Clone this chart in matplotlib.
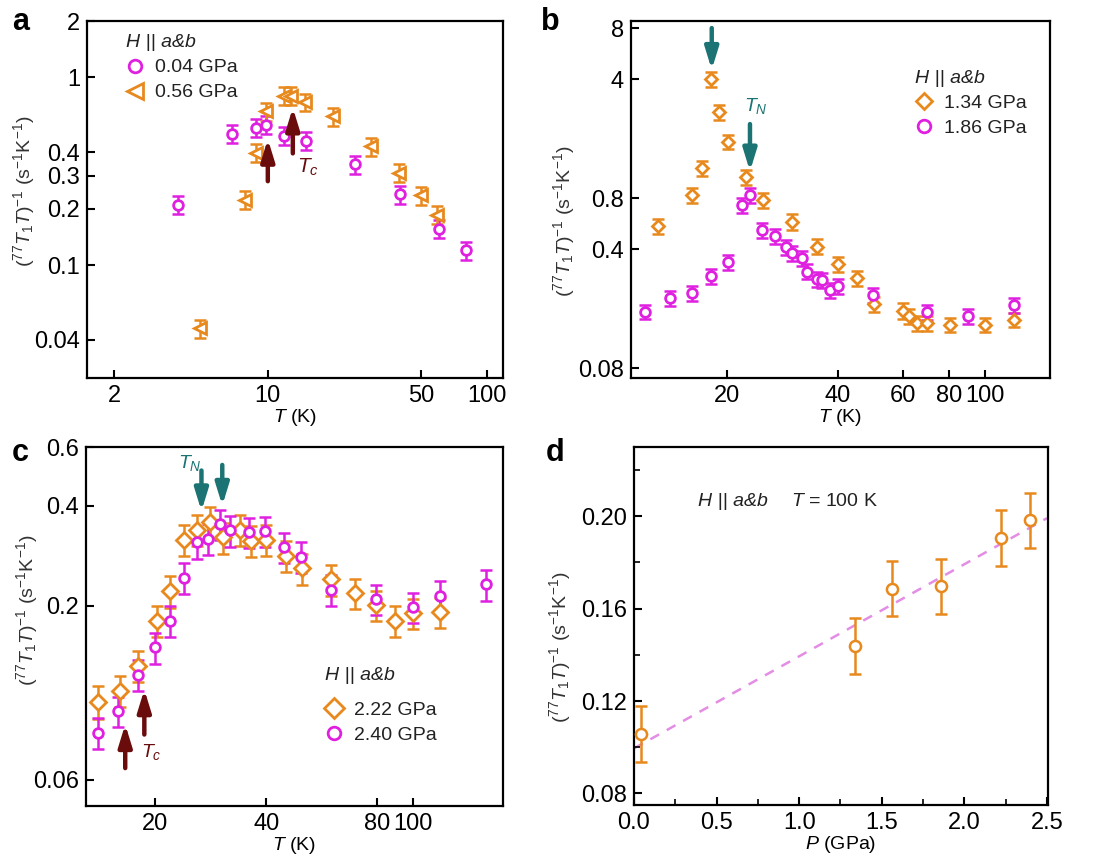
import numpy as np
import matplotlib
matplotlib.use("Agg")
import matplotlib.pyplot as plt
from matplotlib.ticker import NullLocator, FixedLocator

plt.rcParams['font.family'] = ['Liberation Sans', 'DejaVu Sans']
plt.rcParams['mathtext.fontset'] = 'custom'
plt.rcParams['mathtext.rm'] = 'Liberation Sans'
plt.rcParams['mathtext.it'] = 'Liberation Sans:italic'
plt.rcParams['mathtext.bf'] = 'Liberation Sans:bold'

MAGENTA = '#e020e0'
ORANGE = '#e8891e'
TEAL = '#1b7373'
DARKRED = '#6b0c0c'
FIT = '#e48de4'

# ---- panel a: 0.04 GPa / 0.56 GPa ----
a_T_004 = [3.9, 6.9, 8.85, 9.8, 11.8, 14.9, 24.9, 39.9, 60, 80]
a_v_004 = [0.21, 0.50, 0.54, 0.56, 0.49, 0.46, 0.344, 0.238, 0.156, 0.120]
a_e_004 = [0.023, 0.055, 0.06, 0.06, 0.054, 0.05, 0.038, 0.026, 0.017, 0.013]
a_T_056 = [4.9, 7.9, 8.85, 9.8, 11.9, 12.8, 14.7, 19.8, 29.6, 39.7, 50, 58.8]
a_v_056 = [0.046, 0.223, 0.397, 0.66, 0.80, 0.80, 0.74, 0.62, 0.43, 0.31, 0.235, 0.186]
a_e_056 = [0.005, 0.025, 0.044, 0.073, 0.088, 0.088, 0.08, 0.068, 0.047, 0.034, 0.026, 0.02]
a_tc_T = [10.0, 13.0]
a_tc_tail = [0.28, 0.394]
a_tc_tip = [0.47, 0.69]

# ---- panel b: 1.34 GPa / 1.86 GPa ----
b_T_134 = [13.0, 16.1, 17.1, 18.1, 19.1, 20.2, 22.6, 25.1, 30.1, 35.0, 40.0, 45.1,
           50.0, 60.0, 62.2, 65.3, 69.7, 80.4, 100, 119.6]
b_v_134 = [0.55, 0.835, 1.20, 4.0, 2.55, 1.72, 1.06, 0.78, 0.582, 0.415, 0.327, 0.270,
           0.191, 0.174, 0.161, 0.148, 0.148, 0.144, 0.144, 0.154]
b_e_134 = [0.055, 0.085, 0.12, 0.4, 0.26, 0.17, 0.11, 0.08, 0.06, 0.042, 0.033, 0.027,
           0.019, 0.018, 0.016, 0.015, 0.015, 0.014, 0.014, 0.015]
b_T_186 = [12.0, 14.0, 16.1, 18.1, 20.2, 22.0, 23.1, 24.9, 27.0, 29.0, 30.1, 32.0,
           33.0, 35.0, 36.1, 38.0, 40.0, 49.8, 69.7, 90, 119.6]
b_v_186 = [0.172, 0.206, 0.220, 0.279, 0.338, 0.73, 0.835, 0.52, 0.479, 0.411, 0.379, 0.354,
           0.296, 0.267, 0.265, 0.231, 0.243, 0.215, 0.170, 0.161, 0.188]
b_e_186 = [0.017, 0.021, 0.022, 0.028, 0.034, 0.075, 0.085, 0.052, 0.048, 0.041, 0.038, 0.036,
           0.03, 0.027, 0.027, 0.023, 0.025, 0.022, 0.017, 0.016, 0.019]
b_tn_T = [18.2, 23.1]
b_tn_tail = [8.0, 2.18]
b_tn_tip = [4.55, 1.15]

# ---- panel c: 2.22 GPa / 2.40 GPa ----
c_T_222 = [14.0, 16.1, 18.0, 20.3, 22.0, 23.9, 26.0, 28.1, 30.6, 34.0, 36.4, 40.0,
           45.1, 50.0, 59.7, 69.7, 79.3, 89, 100, 118]
c_v_222 = [0.103, 0.111, 0.132, 0.180, 0.221, 0.316, 0.338, 0.357, 0.321, 0.338, 0.314, 0.316,
           0.282, 0.259, 0.240, 0.218, 0.201, 0.180, 0.190, 0.191]
c_e_222 = [0.012, 0.012, 0.014, 0.019, 0.024, 0.034, 0.036, 0.038, 0.034, 0.036, 0.034, 0.034,
           0.03, 0.028, 0.026, 0.023, 0.021, 0.019, 0.02, 0.02]
c_T_240 = [14.0, 15.9, 18.0, 20.0, 22.0, 23.9, 25.9, 27.8, 30.0, 32.0, 35.9, 39.6,
           44.6, 49.8, 59.7, 79.3, 100, 118, 157]
c_v_240 = [0.083, 0.0966, 0.124, 0.150, 0.180, 0.243, 0.31, 0.318, 0.352, 0.337, 0.333, 0.335,
           0.300, 0.281, 0.223, 0.209, 0.198, 0.214, 0.232]
c_e_240 = [0.009, 0.01, 0.013, 0.016, 0.019, 0.026, 0.033, 0.034, 0.037, 0.036, 0.035, 0.035,
           0.032, 0.03, 0.024, 0.022, 0.021, 0.023, 0.025]
c_tn_T = [26.7, 30.4]
c_tn_tail = [0.51, 0.53]
c_tn_tip = [0.385, 0.40]
c_tc_T = [16.6, 18.7]
c_tc_tail = [0.065, 0.082]
c_tc_tip = [0.088, 0.112]

# ---- panel d: T = 100 K vs pressure ----
d_P = [0.04, 1.34, 1.56, 1.86, 2.22, 2.40]
d_v = [0.1057, 0.1438, 0.1687, 0.1697, 0.1906, 0.1983]
d_e = [0.012, 0.012, 0.012, 0.012, 0.012, 0.012]
fit_P = [0.0, 2.5]
fit_v = [0.0995, 0.1992]

YLABEL = r'$(^{77}T_1T)^{-1}$ (s$^{-1}$K$^{-1}$)'
TLABEL = r'$T$ (K)'


def style_axes(ax):
    for s in ax.spines.values():
        s.set_linewidth(1.6)
    ax.tick_params(which='major', direction='in', length=6, width=1.5, labelsize=17, pad=5)
    ax.tick_params(which='minor', direction='in', length=4, width=1.2)


def labels(ax, xlabel, ycoords):
    ax.set_xlabel(xlabel, fontsize=14, labelpad=0)
    ax.set_ylabel(YLABEL, fontsize=14, color='#333333')
    ax.yaxis.set_label_coords(*ycoords)


def series(ax, T, v, e, color, marker, ms, label):
    ax.errorbar(T, v, yerr=e, fmt='none', ecolor=color, elinewidth=1.8,
                capsize=4.5, capthick=1.8, zorder=2)
    ax.plot(T, v, ls='none', marker=marker, ms=ms, mfc='white', mec=color,
            mew=2, label=label, zorder=3)


def arrows(ax, T, tail, tip, color):
    for t, a, b in zip(T, tail, tip):
        ax.annotate('', xy=(t, b), xytext=(t, a),
                    arrowprops=dict(arrowstyle='-|>,head_width=0.2,head_length=0.65',
                                    color=color, lw=3.2, mutation_scale=20,
                                    shrinkA=0, shrinkB=0))


def add_legend(ax, anchor, title_gap):
    leg = ax.legend(loc='upper left', bbox_to_anchor=anchor, frameon=False,
                    fontsize=14, handlelength=0.9, handletextpad=0.6,
                    labelspacing=0.38, borderaxespad=0, markerscale=1.3,
                    title='H || a&b', title_fontproperties={'style': 'italic', 'size': 14})
    leg._legend_box.align = 'left'
    leg._legend_box.sep = title_gap
    for t in leg.get_texts():
        t.set_color('#222222')
    leg.get_title().set_color('#222222')


def log_ticks(ax, xt, yt, xl, yl):
    ax.set_xscale('log')
    ax.set_yscale('log')
    ax.xaxis.set_major_locator(FixedLocator(xt))
    ax.yaxis.set_major_locator(FixedLocator(yt))
    ax.set_xticklabels(xl)
    ax.set_yticklabels(yl)
    ax.xaxis.set_minor_locator(NullLocator())
    ax.yaxis.set_minor_locator(NullLocator())


fig = plt.figure(figsize=(11.07, 8.65), dpi=100)

# a
ax = fig.add_axes([0.0786, 0.5630, 0.3758, 0.4127])
series(ax, a_T_004, a_v_004, a_e_004, MAGENTA, 'o', 7, '0.04 GPa')
series(ax, a_T_056, a_v_056, a_e_056, ORANGE, '<', 9, '0.56 GPa')
arrows(ax, a_tc_T, a_tc_tail, a_tc_tip, DARKRED)
ax.text(13.6, 0.38, r'$T_c$', color=DARKRED, fontsize=15, ha='left', va='top')
log_ticks(ax, [2, 10, 50, 100], [0.04, 0.1, 0.2, 0.3, 0.4, 1, 2],
          ['2', '10', '50', '100'], ['0.04', '0.1', '0.2', '0.3', '0.4', '1', '2'])
ax.set_xlim(1.5, 118)
ax.set_ylim(0.025, 2)
add_legend(ax, (0.075, 0.985), 5.5)
labels(ax, TLABEL, (-0.120, 0.524))
style_axes(ax)
fig.text(0.011, 0.965, 'a', fontsize=22, fontweight='bold')

# b
ax = fig.add_axes([0.570, 0.5630, 0.3785, 0.4127])
series(ax, b_T_134, b_v_134, b_e_134, ORANGE, 'D', 6.5, '1.34 GPa')
series(ax, b_T_186, b_v_186, b_e_186, MAGENTA, 'o', 7, '1.86 GPa')
arrows(ax, b_tn_T, b_tn_tail, b_tn_tip, TEAL)
ax.text(22.2, 3.2, r'$T_N$', color=TEAL, fontsize=14, ha='left', va='top')
log_ticks(ax, [20, 40, 60, 80, 100], [0.08, 0.4, 0.8, 4, 8],
          ['20', '40', '60', '80', '100'], ['0.08', '0.4', '0.8', '4', '8'])
ax.set_xlim(11, 150)
ax.set_ylim(0.07, 8.8)
add_legend(ax, (0.66, 0.885), 5.5)
labels(ax, TLABEL, (-0.129, 0.44))
style_axes(ax)
fig.text(0.489, 0.965, 'b', fontsize=22, fontweight='bold')

# c
ax = fig.add_axes([0.0777, 0.0682, 0.3767, 0.4150])
series(ax, c_T_222, c_v_222, c_e_222, ORANGE, 'D', 8, '2.22 GPa')
series(ax, c_T_240, c_v_240, c_e_240, MAGENTA, 'o', 7, '2.40 GPa')
arrows(ax, c_tn_T, c_tn_tail, c_tn_tip, TEAL)
arrows(ax, c_tc_T, c_tc_tail, c_tc_tip, DARKRED)
ax.text(23.0, 0.575, r'$T_N$', color=TEAL, fontsize=14, ha='left', va='top')
ax.text(18.3, 0.078, r'$T_c$', color=DARKRED, fontsize=14, ha='left', va='top')
log_ticks(ax, [20, 40, 80, 100], [0.06, 0.2, 0.4, 0.6],
          ['20', '40', '80', '100'], ['0.06', '0.2', '0.4', '0.6'])
ax.set_xlim(13, 175)
ax.set_ylim(0.05, 0.6)
add_legend(ax, (0.555, 0.41), 13)
labels(ax, TLABEL, (-0.110, 0.546))
style_axes(ax)
fig.text(0.011, 0.467, 'c', fontsize=22, fontweight='bold')

# d
ax = fig.add_axes([0.5727, 0.0694, 0.3740, 0.4138])
ax.plot(fit_P, fit_v, color=FIT, lw=1.8, dashes=(4, 3.5), zorder=1)
ax.errorbar(d_P, d_v, yerr=d_e, fmt='none', ecolor=ORANGE, elinewidth=1.8,
            capsize=4.5, capthick=1.8, zorder=2)
ax.plot(d_P, d_v, ls='none', marker='o', ms=8, mfc='white', mec=ORANGE, mew=1.8, zorder=3)
ax.text(0.39, 0.2062, 'H || a&b', fontsize=14, style='italic', color='#222222', va='center')
ax.text(0.95, 0.2062, r'$T$ = 100 K', fontsize=14, color='#222222', va='center')
ax.set_xlim(0, 2.506)
ax.set_ylim(0.075, 0.23)
ax.set_xticks([0.0, 0.5, 1.0, 1.5, 2.0, 2.5])
ax.set_xticklabels(['0.0', '0.5', '1.0', '1.5', '2.0', '2.5'])
ax.set_yticks([0.08, 0.12, 0.16, 0.20])
ax.set_yticklabels(['0.08', '0.12', '0.16', '0.20'])
ax.xaxis.set_minor_locator(FixedLocator([0.25, 0.75, 1.25, 1.75, 2.25]))
ax.yaxis.set_minor_locator(FixedLocator([0.10, 0.14, 0.18, 0.22]))
labels(ax, r'$P$ (GPa)', (-0.147, 0.441))
style_axes(ax)
fig.text(0.493, 0.467, 'd', fontsize=22, fontweight='bold')

fig.savefig('out.png', dpi=100)
